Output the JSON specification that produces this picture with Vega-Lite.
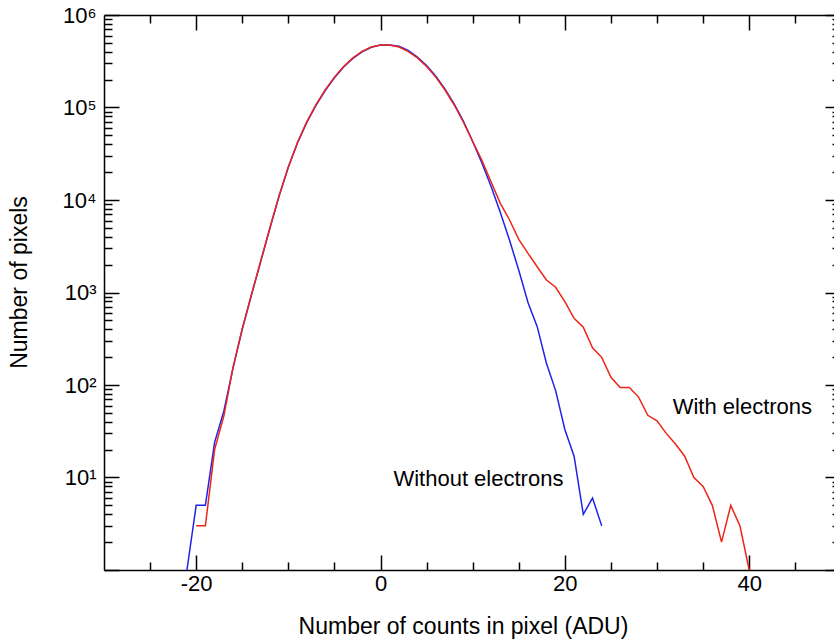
{
  "$schema": "https://vega.github.io/schema/vega-lite/v6.json",
  "width": 730,
  "height": 555,
  "autosize": {"type": "none"},
  "padding": {"left": 104, "top": 15, "right": 0, "bottom": 71},
  "background": "white",
  "config": {
    "view": {"stroke": null},
    "axis": {
      "grid": false,
      "domainColor": "black",
      "tickColor": "black",
      "domainWidth": 1.5,
      "tickWidth": 1.5,
      "labelFont": "Liberation Sans",
      "labelFontSize": 22,
      "labelColor": "black",
      "titleFont": "Liberation Sans",
      "titleFontSize": 23,
      "titleFontWeight": "normal",
      "titleColor": "black"
    }
  },
  "datasets": {
    "without": [
      {"x": -21, "n": 1}, {"x": -20, "n": 5}, {"x": -19, "n": 5}, {"x": -18, "n": 24},
      {"x": -17, "n": 52}, {"x": -16, "n": 153}, {"x": -15, "n": 401}, {"x": -14, "n": 941},
      {"x": -13, "n": 2155}, {"x": -12, "n": 4937}, {"x": -11, "n": 11050}, {"x": -10, "n": 22570},
      {"x": -9, "n": 41540}, {"x": -8, "n": 69000}, {"x": -7, "n": 105600}, {"x": -6, "n": 152600},
      {"x": -5, "n": 209800}, {"x": -4, "n": 273800}, {"x": -3, "n": 338800}, {"x": -2, "n": 398900},
      {"x": -1, "n": 448000}, {"x": 0, "n": 474000}, {"x": 1, "n": 475000}, {"x": 2, "n": 459000},
      {"x": 3, "n": 413100}, {"x": 4, "n": 350900}, {"x": 5, "n": 283600}, {"x": 6, "n": 217300},
      {"x": 7, "n": 157600}, {"x": 8, "n": 108500}, {"x": 9, "n": 70700}, {"x": 10, "n": 42900},
      {"x": 11, "n": 25100}, {"x": 12, "n": 13960}, {"x": 13, "n": 7345}, {"x": 14, "n": 3673},
      {"x": 15, "n": 1738}, {"x": 16, "n": 780}, {"x": 17, "n": 427}, {"x": 18, "n": 172},
      {"x": 19, "n": 87}, {"x": 20, "n": 33}, {"x": 21, "n": 17}, {"x": 22, "n": 4},
      {"x": 23, "n": 6}, {"x": 24, "n": 3}
    ],
    "with": [
      {"x": -20, "n": 3}, {"x": -19, "n": 3}, {"x": -18, "n": 20}, {"x": -17, "n": 46},
      {"x": -16, "n": 155}, {"x": -15, "n": 407}, {"x": -14, "n": 955}, {"x": -13, "n": 2188},
      {"x": -12, "n": 5012}, {"x": -11, "n": 11220}, {"x": -10, "n": 22910}, {"x": -9, "n": 42170},
      {"x": -8, "n": 70000}, {"x": -7, "n": 107200}, {"x": -6, "n": 154900}, {"x": -5, "n": 213000},
      {"x": -4, "n": 278000}, {"x": -3, "n": 344000}, {"x": -2, "n": 405000}, {"x": -1, "n": 450000},
      {"x": 0, "n": 474000}, {"x": 1, "n": 474000}, {"x": 2, "n": 450000}, {"x": 3, "n": 405000},
      {"x": 4, "n": 344000}, {"x": 5, "n": 278000}, {"x": 6, "n": 213000}, {"x": 7, "n": 154500},
      {"x": 8, "n": 106400}, {"x": 9, "n": 69300}, {"x": 10, "n": 42900}, {"x": 11, "n": 26900},
      {"x": 12, "n": 15670}, {"x": 13, "n": 9200}, {"x": 14, "n": 6080}, {"x": 15, "n": 3760},
      {"x": 16, "n": 2650}, {"x": 17, "n": 1900}, {"x": 18, "n": 1365}, {"x": 19, "n": 1140},
      {"x": 20, "n": 796}, {"x": 21, "n": 526}, {"x": 22, "n": 421}, {"x": 23, "n": 253},
      {"x": 24, "n": 199}, {"x": 25, "n": 121}, {"x": 26, "n": 94}, {"x": 27, "n": 94},
      {"x": 28, "n": 74}, {"x": 29, "n": 47}, {"x": 30, "n": 41}, {"x": 31, "n": 30},
      {"x": 32, "n": 23}, {"x": 33, "n": 17}, {"x": 34, "n": 10}, {"x": 35, "n": 8},
      {"x": 36, "n": 5}, {"x": 37, "n": 2}, {"x": 38, "n": 5}, {"x": 39, "n": 3},
      {"x": 40, "n": 1}
    ],
    "labels": [
      {"label": "Without electrons", "x": 1.4, "n": 9.6},
      {"label": "With electrons", "x": 31.7, "n": 57.8}
    ]
  },
  "resolve": {"axis": {"x": "independent", "y": "independent"}},
  "layer": [
    {
      "data": {"name": "without"},
      "mark": {"type": "line", "color": "#1f22e8", "strokeWidth": 1.5},
      "encoding": {
        "x": {
          "field": "x", "type": "quantitative",
          "scale": {"domain": [-30, 49.2], "nice": false, "zero": false},
          "axis": {"orient": "bottom", "values": [-20, 0, 20, 40], "ticks": false, "domain": true,
                   "labelPadding": 3, "labelExpr": "'' + datum.value",
                   "title": "Number of counts in pixel (ADU)", "titlePadding": 21, "titleX": 359}
        },
        "y": {
          "field": "n", "type": "quantitative",
          "scale": {"type": "log", "domain": [1, 1000000], "nice": false},
          "axis": {"orient": "left", "values": [10, 100, 1000, 10000, 100000, 1000000], "ticks": false,
                   "domain": true, "labelPadding": 8,
                   "labelExpr": "'10' + ['⁰','¹','²','³','⁴','⁵','⁶'][round(log(datum.value)/LN10)]",
                   "title": "Number of pixels", "titlePadding": 31, "titleY": 267}
        }
      }
    },
    {
      "data": {"name": "with"},
      "mark": {"type": "line", "color": "#ee2418", "strokeWidth": 1.5},
      "encoding": {
        "x": {
          "field": "x", "type": "quantitative",
          "axis": {"orient": "bottom", "values": [-20, 0, 20, 40], "tickSize": -15, "labels": false,
                   "domain": false, "title": null}
        },
        "y": {
          "field": "n", "type": "quantitative",
          "axis": {"orient": "left", "values": [1, 10, 100, 1000, 10000, 100000, 1000000], "tickSize": -15,
                   "labels": false, "domain": false, "title": null}
        }
      }
    },
    {
      "data": {"name": "with"},
      "mark": {"type": "line", "strokeOpacity": 0},
      "encoding": {
        "x": {
          "field": "x", "type": "quantitative",
          "axis": {"orient": "bottom", "values": [-25, -15, -10, -5, 5, 10, 15, 25, 30, 35, 45], "tickSize": -8,
                   "labels": false, "domain": false, "title": null}
        },
        "y": {
          "field": "n", "type": "quantitative",
          "axis": {"orient": "left", "values": [2,3,4,5,6,7,8,9,20,30,40,50,60,70,80,90,200,300,400,500,600,700,800,900,2000,3000,4000,5000,6000,7000,8000,9000,20000,30000,40000,50000,60000,70000,80000,90000,200000,300000,400000,500000,600000,700000,800000,900000],
                   "tickSize": -8, "labels": false, "domain": false, "title": null}
        }
      }
    },
    {
      "data": {"name": "with"},
      "mark": {"type": "line", "strokeOpacity": 0},
      "encoding": {
        "x": {
          "field": "x", "type": "quantitative",
          "axis": {"orient": "top", "values": [-20, 0, 20, 40], "tickSize": -15, "labels": false,
                   "domain": true, "title": null}
        },
        "y": {
          "field": "n", "type": "quantitative",
          "axis": {"orient": "right", "offset": 6, "values": [1, 10, 100, 1000, 10000, 100000, 1000000], "tickSize": -15,
                   "labels": false, "domain": true, "title": null}
        }
      }
    },
    {
      "data": {"name": "with"},
      "mark": {"type": "line", "strokeOpacity": 0},
      "encoding": {
        "x": {
          "field": "x", "type": "quantitative",
          "axis": {"orient": "top", "values": [-25, -15, -10, -5, 5, 10, 15, 25, 30, 35, 45], "tickSize": -8,
                   "labels": false, "domain": false, "title": null}
        },
        "y": {
          "field": "n", "type": "quantitative",
          "axis": {"orient": "right", "offset": 6, "values": [2,3,4,5,6,7,8,9,20,30,40,50,60,70,80,90,200,300,400,500,600,700,800,900,2000,3000,4000,5000,6000,7000,8000,9000,20000,30000,40000,50000,60000,70000,80000,90000,200000,300000,400000,500000,600000,700000,800000,900000],
                   "tickSize": -8, "labels": false, "domain": false, "title": null}
        }
      }
    },
    {
      "data": {"name": "labels"},
      "mark": {"type": "text", "align": "left", "baseline": "middle", "font": "Liberation Sans", "fontSize": 22, "color": "black"},
      "encoding": {
        "x": {"field": "x", "type": "quantitative", "axis": null},
        "y": {"field": "n", "type": "quantitative", "axis": null},
        "text": {"field": "label"}
      }
    }
  ]
}
